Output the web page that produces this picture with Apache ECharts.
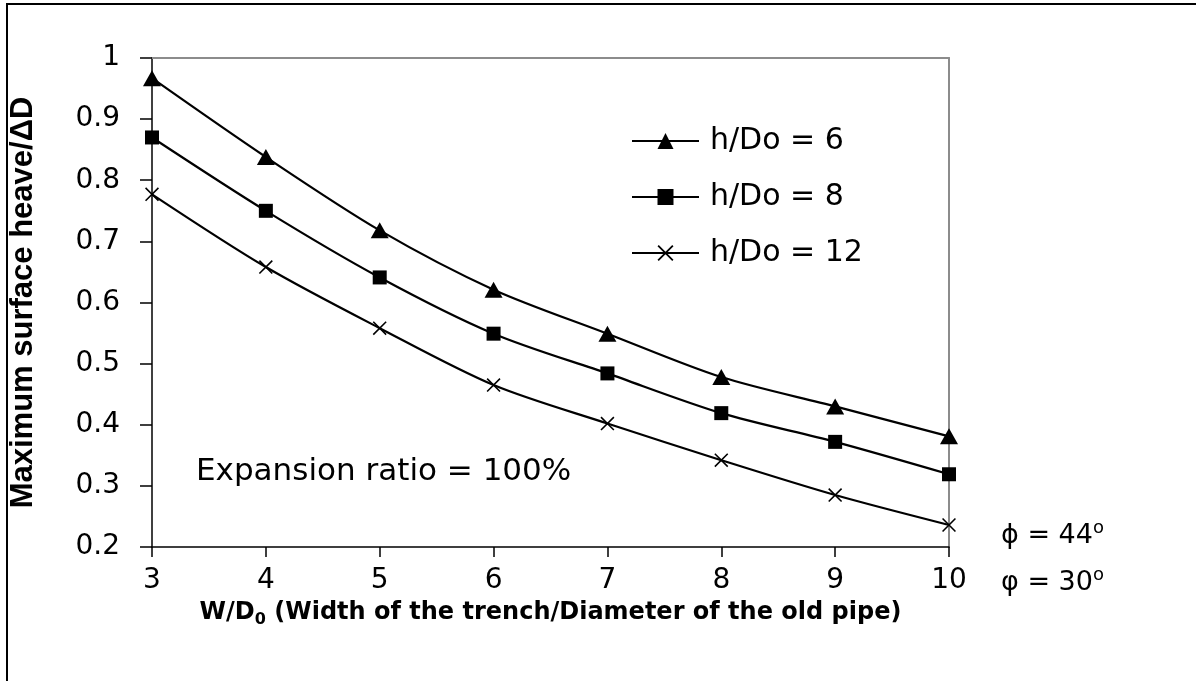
<!DOCTYPE html>
<html>
<head>
<meta charset="utf-8">
<script src="https://cdn.jsdelivr.net/npm/echarts@6/dist/echarts.min.js"></script>
<style>
html,body{margin:0;padding:0;background:#fff;}
#chart{width:1196px;height:681px;}
</style>
</head>
<body>
<div id="chart"></div>
<script>
// ---- data ----
var xValues = [3, 4, 5, 6, 7, 8, 9, 10];
var seriesNames = ['h/Do = 6', 'h/Do = 8', 'h/Do = 12'];
var heave6  = [0.967, 0.838, 0.718, 0.621, 0.549, 0.478, 0.430, 0.381];
var heave8  = [0.870, 0.750, 0.641, 0.549, 0.484, 0.419, 0.372, 0.319];
var heave12 = [0.777, 0.658, 0.558, 0.465, 0.402, 0.342, 0.285, 0.236];
var yTicks = { min: 0.2, max: 1, interval: 0.1 };
var xTicks = { min: 3, max: 10, interval: 1 };
var annotation = 'Expansion ratio = 100%';
var phiText = ['\u03D5 = 44', '\u03C6 = 30'];

function pairs(vals) {
  return xValues.map(function (x, i) { return [x, vals[i]]; });
}

var crossPath = 'path://M0,8L8,0L100,92L92,100ZM92,0L100,8L8,100L0,92Z';
var font = 'DejaVu Sans';

var chart = echarts.init(document.getElementById('chart'), null, { renderer: 'canvas' });

function lineSeries(name, vals, symbol, size) {
  return {
    name: name,
    type: 'line',
    data: pairs(vals),
    smooth: 0.3,
    symbol: symbol,
    symbolSize: size,
    showAllSymbol: true,
    lineStyle: { color: '#000', width: 2.2 },
    itemStyle: { color: '#000' },
    emphasis: { disabled: true },
    z: 3
  };
}

var option = {
  backgroundColor: '#fff',
  animation: false,
  grid: { left: 148, top: 58, width: 801, height: 489, containLabel: false },
  xAxis: [{
    type: 'value',
    min: xTicks.min, max: xTicks.max, interval: xTicks.interval,
    position: 'bottom',
    axisLine: { show: true, onZero: false, lineStyle: { color: '#000', width: 1.5 } },
    axisTick: { show: true, inside: false, length: 10, lineStyle: { color: '#000', width: 1.5 } },
    axisLabel: { color: '#000', fontFamily: font, fontSize: 28, margin: 20 },
    splitLine: { show: false },
    name: 'W/D{sub|0} (Width of the trench/Diameter of the old pipe)',
    nameLocation: 'middle',
    nameGap: 51,
    nameTextStyle: {
      color: '#000', fontFamily: font, fontWeight: 'bold', fontSize: 24,
      rich: {
        sub: { fontFamily: font, fontWeight: 'bold', fontSize: 16, verticalAlign: 'bottom', padding: [14, 0, 0, 0] }
      }
    }
  }, {
    type: 'value',
    min: xTicks.min, max: xTicks.max, interval: xTicks.interval,
    position: 'top',
    axisLine: { show: true, lineStyle: { color: '#8c8c8c', width: 2 } },
    axisTick: { show: false },
    axisLabel: { show: false },
    splitLine: { show: false }
  }],
  yAxis: [{
    type: 'value',
    min: yTicks.min, max: yTicks.max, interval: yTicks.interval,
    position: 'left',
    axisLine: { show: true, onZero: false, lineStyle: { color: '#000', width: 1.5 } },
    axisTick: { show: true, inside: false, length: 12, lineStyle: { color: '#000', width: 1.5 } },
    axisLabel: {
      color: '#000', fontFamily: font, fontSize: 28, margin: 32,
      formatter: function (v) { return Math.abs(v - 1) < 1e-9 ? '1' : v.toFixed(1); }
    },
    splitLine: { show: false },
    name: 'Maximum surface heave/\u0394D',
    nameLocation: 'middle',
    nameRotate: 90,
    nameGap: 113,
    nameTextStyle: { color: '#000', fontFamily: 'Liberation Sans', fontWeight: 'bold', fontSize: 31 }
  }, {
    type: 'value',
    min: yTicks.min, max: yTicks.max, interval: yTicks.interval,
    position: 'right',
    axisLine: { show: true, lineStyle: { color: '#8c8c8c', width: 2 } },
    axisTick: { show: false },
    axisLabel: { show: false },
    splitLine: { show: false }
  }],
  legend: {
    orient: 'vertical',
    left: 631,
    top: 126,
    padding: 0,
    itemWidth: 67,
    itemHeight: 20,
    itemGap: 26,
    data: seriesNames,
    textStyle: { color: '#000', fontFamily: font, fontSize: 30, lineHeight: 30, padding: [0, 0, 0, 6] },
    selectedMode: false
  },
  series: [
    lineSeries(seriesNames[0], heave6, 'triangle', [18, 16]),
    lineSeries(seriesNames[1], heave8, 'rect', 14),
    lineSeries(seriesNames[2], heave12, crossPath, 14)
  ],
  graphic: [
    {
      type: 'rect', silent: true, z: 0,
      shape: { x: 7, y: 4, width: 1400, height: 900 },
      style: { fill: 'none', stroke: '#000', lineWidth: 2 }
    },
    {
      type: 'text', left: 196, top: 456, silent: true,
      style: { text: annotation, fill: '#000', font: '31px "DejaVu Sans"' }
    },
    {
      type: 'text', left: 1001, top: 519, silent: true,
      style: {
        text: '{a|' + phiText[0] + '}{s|o}\n{a|' + phiText[1] + '}{s|o}',
        rich: {
          a: { fill: '#000', fontFamily: font, fontSize: 27, lineHeight: 47 },
          s: { fill: '#000', fontFamily: font, fontSize: 18, lineHeight: 47, padding: [0, 0, 16, 0] }
        }
      }
    }
  ]
};

chart.setOption(option);
</script>
</body>
</html>
